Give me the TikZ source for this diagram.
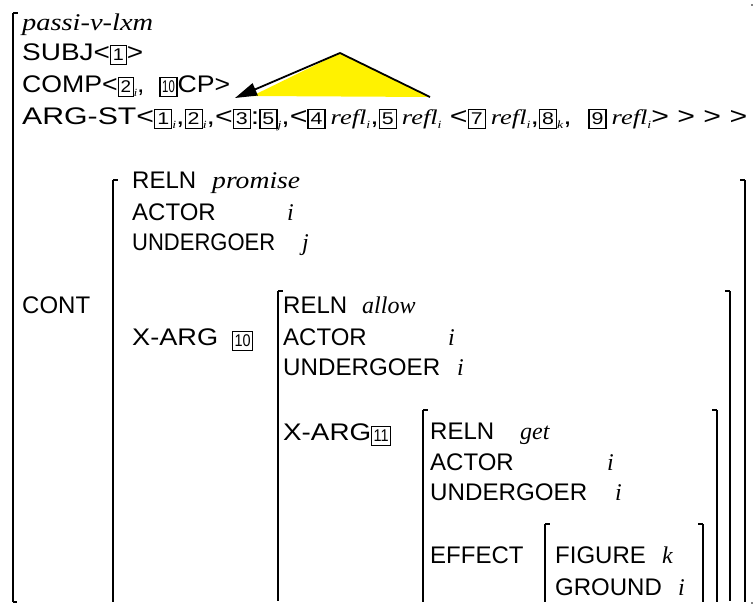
\documentclass[tikz,border=0pt]{standalone}
\usepackage{fontspec}
\usepackage{graphicx}
\setmainfont{Liberation Sans}
\newfontfamily\valfam{Liberation Serif}
\usetikzlibrary{arrows.meta}

% feature names, italic values, boxed tags, small subscripts
\newcommand{\lblfont}{\fontsize{24}{24}\selectfont}
\newcommand{\valfont}{\valfam\itshape\fontsize{24}{24}\selectfont}
\newcommand{\bnum}[1]{{\setlength{\fboxsep}{1.5pt}\setlength{\fboxrule}{1pt}\fbox{\fontsize{17}{17}\selectfont\rule[-2pt]{0pt}{15pt}#1}}}
\newcommand{\bwide}[2][0.6]{\bnum{\scalebox{#1}[1]{#2}}}
\newcommand{\sbi}[1]{\raisebox{-4pt}{\valfam\itshape\fontsize{11}{11}\selectfont #1}}
\newcommand{\rfl}{{\valfam\itshape\fontsize{21}{21}\selectfont refl}}
\newcommand{\fitw}[2]{\resizebox{#1}{\height}{#2}}

\begin{document}
\begin{tikzpicture}[x=1pt,y=-1pt,
  lbl/.style={anchor=base west,inner sep=0pt,font=\lblfont},
  val/.style={anchor=base west,inner sep=0pt,font=\valfont},
  brk/.style={line width=2.8pt},
  tick/.style={line width=1.2pt},
  edge/.style={line width=1.8pt}]
\useasboundingbox (0,0) rectangle (755,607);

% ---- brackets -------------------------------------------------------
% outer left
\draw[brk] (13,13) -- (13,602);
\draw[tick] (13,13) -- (18,13);
\draw[tick] (13,602) -- (17,602);
\fill (752,5) circle (0.8);
\fill (752,603) circle (0.8);
% CONT value
\draw[brk] (113,180) -- (113,602);
\draw[tick] (113,180) -- (118,180);
\draw[brk] (745,180) -- (745,602);
\draw[tick] (745,180) -- (740,180);
% allow
\draw[brk] (278,291) -- (278,601);
\draw[tick] (278,291) -- (283,291);
\draw[brk] (730,291) -- (730,601);
\draw[tick] (730,291) -- (725,291);
% get
\draw[brk] (423,410) -- (423,602);
\draw[tick] (423,410) -- (428,410);
\draw[brk] (717,410) -- (717,602);
\draw[tick] (717,410) -- (712,410);
% effect
\draw[brk] (545,524) -- (545,602);
\draw[tick] (545,524) -- (550,524);
\draw[brk] (703,524) -- (703,602);
\draw[tick] (703,524) -- (698,524);

% ---- head lines -------------------------------------------------------
\node[val] (type) at (22,31) {\fitw{131pt}{passi-v-lxm}};
\node[lbl] (subj) at (22,61) {\fitw{121pt}{SUBJ<\bnum{1}>}};
\node[lbl] (comp) at (22,93) {\fitw{208pt}{COMP<\bnum{2}\sbi{i},\ \ \bwide{10}CP>}};
\node[lbl] (argst) at (22,125) {\fitw{725pt}{ARG-ST<\bnum{1}\sbi{i},\bnum{2}\sbi{i},<\bnum{3}:\bnum{5}\sbi{j},<\bnum{4}\,\rfl\sbi{i},\bnum{5}\,\rfl\sbi{i} <\bnum{7}\,\rfl\sbi{i},\bnum{8}\sbi{k},\ \ \bnum{9}\,\rfl\sbi{i}> > > >}};

% ---- pointer ----------------------------------------------------------
\coordinate (apex) at (340,53);
\coordinate (tip) at (235,98);
\coordinate (rend) at (430,97);
\fill[yellow] (apex) -- (252,96) -- (rend) -- cycle;
\draw[edge] (rend) -- (apex);
\draw[edge,-{Triangle[length=22pt,width=13pt]}] (apex) -- (tip);

% ---- CONT ------------------------------------------------------------
\node[lbl] (cont) at (22,313) {CONT};
\node[lbl] (r1) at (132,188) {RELN};
\node[val] (v1) at (212,188) {\fitw{88pt}{promise}};
\node[lbl] (a1) at (132,220) {ACTOR};
\node[val] (ai1) at (287,220) {i};
\node[lbl] (u1) at (132,250) {\fitw{143pt}{UNDERGOER}};
\node[val] (uj1) at (302,250) {j};
\node[lbl] (x1) at (132,345) {\fitw{86pt}{X-ARG}};
\node[lbl] (t10) at (232,346) {\bwide[0.85]{10}};

% allow
\node[lbl] (r2) at (283,313) {RELN};
\node[val] (v2) at (362,313) {allow};
\node[lbl] (a2) at (283,345) {ACTOR};
\node[val] (ai2) at (448,345) {i};
\node[lbl] (u2) at (283,375) {\fitw{157pt}{UNDERGOER}};
\node[val] (ui2) at (457,375) {i};
\node[lbl] (x2) at (283,440) {\fitw{88pt}{X-ARG}};
\node[lbl] (t11) at (371,441) {\bwide[0.85]{11}};

% get
\node[lbl] (r3) at (430,439) {RELN};
\node[val] (v3) at (520,439) {get};
\node[lbl] (a3) at (430,470) {ACTOR};
\node[val] (ai3) at (607,470) {i};
\node[lbl] (u3) at (430,500) {\fitw{157pt}{UNDERGOER}};
\node[val] (ui3) at (615,500) {i};
\node[lbl] (e3) at (430,563) {EFFECT};

% effect value
\node[lbl] (f4) at (555,563) {FIGURE};
\node[val] (fk4) at (662,563) {k};
\node[lbl] (g4) at (555,595) {GROUND};
\node[val] (gi4) at (678,595) {i};
\end{tikzpicture}
\end{document}
